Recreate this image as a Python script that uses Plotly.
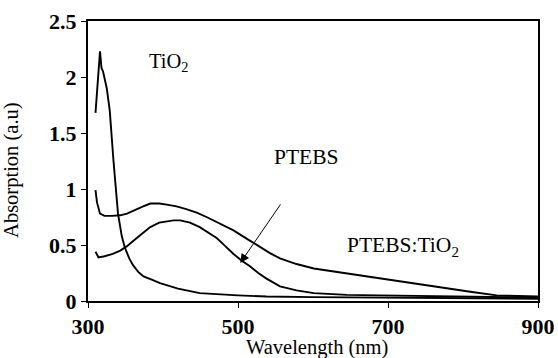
import plotly.graph_objects as go

# TiO2
wl_tio2 = [310, 312, 314, 316, 318, 320, 325, 329, 334, 336, 340, 345, 349, 355, 360, 367, 374, 385, 396, 420, 449, 500, 538, 600, 700, 800, 900]
abs_tio2 = [1.68, 1.9, 2.08, 2.23, 2.08, 2.05, 1.9, 1.7, 1.25, 1.08, 0.78, 0.58, 0.48, 0.38, 0.32, 0.26, 0.22, 0.19, 0.16, 0.11, 0.07, 0.05, 0.04, 0.035, 0.03, 0.025, 0.02]

# PTEBS:TiO2
wl_blend = [310, 312, 316, 322, 332, 343, 352, 361, 372, 383, 395, 405, 418, 431, 445, 458, 476, 494, 512, 529, 542, 556, 578, 601, 645, 689, 733, 778, 812, 845, 870, 900]
abs_blend = [0.99, 0.88, 0.78, 0.76, 0.76, 0.765, 0.78, 0.81, 0.84, 0.87, 0.87, 0.86, 0.845, 0.82, 0.79, 0.75, 0.69, 0.63, 0.555, 0.48, 0.43, 0.38, 0.33, 0.29, 0.245, 0.2, 0.155, 0.11, 0.08, 0.05, 0.045, 0.04]

# PTEBS
wl_ptebs = [310, 314, 322, 333, 343, 352, 361, 372, 383, 395, 405, 414, 423, 436, 449, 460, 472, 483, 494, 505, 516, 527, 538, 556, 578, 601, 645, 689, 750, 800, 850, 900]
abs_ptebs = [0.44, 0.39, 0.40, 0.42, 0.45, 0.49, 0.54, 0.60, 0.66, 0.70, 0.71, 0.72, 0.72, 0.70, 0.66, 0.615, 0.56, 0.49, 0.42, 0.36, 0.31, 0.25, 0.2, 0.13, 0.095, 0.07, 0.055, 0.05, 0.045, 0.04, 0.035, 0.03]

x_ticks = [300, 500, 700, 900]
y_ticks = [0, 0.5, 1, 1.5, 2, 2.5]
y_tick_labels = ["0", "0.5", "1", "1.5", "2", "2.5"]

FONT = "Liberation Serif"

fig = go.Figure()
for wl, ab in [(wl_tio2, abs_tio2), (wl_blend, abs_blend), (wl_ptebs, abs_ptebs)]:
    fig.add_trace(go.Scatter(x=wl, y=ab, mode="lines",
                             line=dict(color="black", width=1.9),
                             showlegend=False, hoverinfo="skip"))

fig.add_annotation(x=407, y=2.13, text="TiO<sub>2</sub>", showarrow=False,
                   font=dict(family=FONT, size=20.5, color="black"))
fig.add_annotation(x=591, y=1.29, text="PTEBS", showarrow=False,
                   font=dict(family=FONT, size=21.5, color="black"))
fig.add_annotation(x=720, y=0.49, text="PTEBS:TiO<sub>2</sub>", showarrow=False,
                   font=dict(family=FONT, size=21.5, color="black"))
fig.add_annotation(x=503, y=0.34, ax=558, ay=0.875, axref="x", ayref="y",
                   text="", showarrow=True, arrowhead=2, arrowsize=1.8,
                   arrowwidth=1, arrowcolor="black")
# axis titles
fig.add_annotation(xref="paper", yref="paper", x=-0.169, y=0.468,
                   text="Absorption (a.u)", textangle=-90, showarrow=False,
                   xanchor="center", yanchor="middle",
                   font=dict(family=FONT, size=20.5, color="black"))
fig.add_annotation(xref="paper", yref="paper", x=0.509, y=-0.165,
                   text="Wavelength (nm)", showarrow=False,
                   xanchor="center", yanchor="middle",
                   font=dict(family=FONT, size=20.5, color="black"))

fig.update_xaxes(range=[300, 900], tickvals=x_ticks, showline=True, mirror=True,
                 linecolor="black", linewidth=2, ticks="outside", ticklen=5,
                 tickwidth=1, tickcolor="black", showgrid=False, zeroline=False,
                 automargin=False,
                 tickfont=dict(family=FONT, size=22, color="black", weight="bold"))
fig.update_yaxes(range=[0, 2.5], tickvals=y_ticks, ticktext=y_tick_labels,
                 showline=True, mirror=True,
                 linecolor="black", linewidth=2, ticks="outside", ticklen=5,
                 tickwidth=1, tickcolor="black", showgrid=False, zeroline=False,
                 automargin=False,
                 tickfont=dict(family=FONT, size=22, color="black", weight="bold"))

fig.update_layout(width=558, height=358, margin=dict(l=88, r=20, t=21, b=57),
                  plot_bgcolor="white", paper_bgcolor="white")

fig.write_html(
    "out.html",
    config={"displayModeBar": False},
    post_script="document.documentElement.style.overflow='hidden';"
                "document.body.style.margin='0';"
                "document.body.style.overflow='hidden';",
)
